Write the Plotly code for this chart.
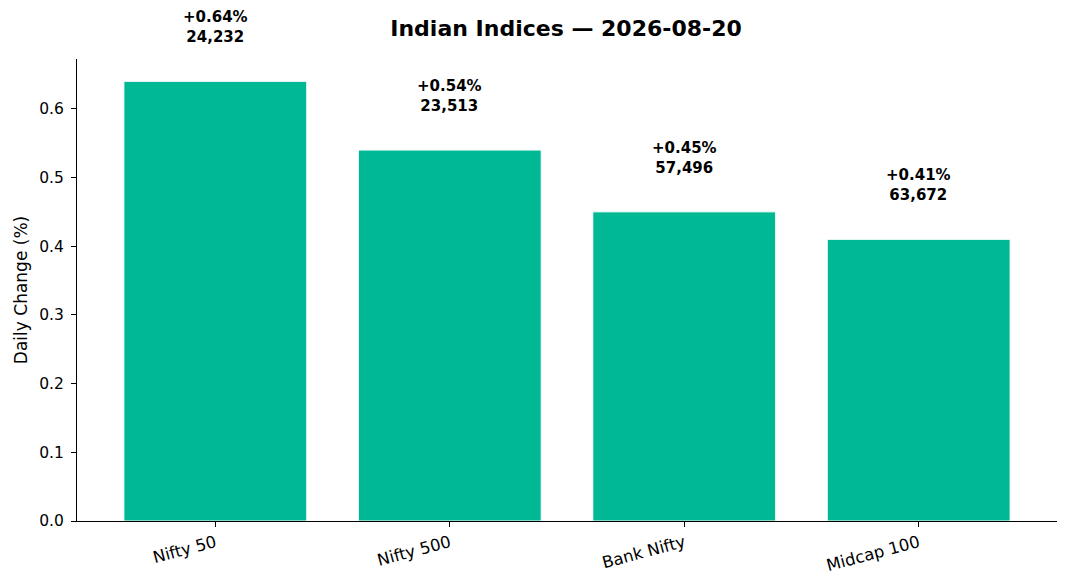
import plotly.graph_objects as go

# index data
indices = ["Nifty 50", "Nifty 500", "Bank Nifty", "Midcap 100"]
changes = [0.64, 0.54, 0.45, 0.41]
closes = [24232, 23513, 57496, 63672]

bar_color = "#00b894"
font = "DejaVu Sans"

trace = go.Bar(
    x=list(range(len(indices))), y=changes, width=0.78,
    marker=dict(color=bar_color, line=dict(color="white", width=1)),
)

fig = go.Figure(data=[trace])

for i, (c, v) in enumerate(zip(changes, closes)):
    fig.add_annotation(
        x=i, y=c, yshift=33, yanchor="bottom", showarrow=False,
        text="<b>+%.2f%%<br>%s</b>" % (c, format(v, ",")),
        font=dict(family=font, size=15, color="black"),
    )

fig.update_layout(
    width=1068, height=587,
    margin=dict(l=69, r=19, t=51, b=74),
    plot_bgcolor="white", paper_bgcolor="white",
    showlegend=False,
    font=dict(family=font, size=15, color="black"),
    title=dict(text="<b>Indian Indices — 2026-08-20</b>", x=0.5225, xanchor="center",
               yref="container", y=0.966, yanchor="middle", font=dict(size=22, family=font)),
    xaxis=dict(
        range=[-0.59, 3.59], tickmode="array", tickvals=list(range(len(indices))),
        ticktext=indices, tickangle=-15, showline=True, linecolor="black",
        ticks="outside", ticklen=5, tickcolor="black", showgrid=False,
        zeroline=False, tickfont=dict(size=16.5), automargin=False,
    ),
    yaxis=dict(
        range=[0, 0.6725], tickvals=[0, 0.1, 0.2, 0.3, 0.4, 0.5, 0.6],
        tickformat=".1f", showline=True, linecolor="black", ticks="outside",
        ticklen=5, tickcolor="black", showgrid=False, zeroline=False,
        ticklabelstandoff=4,
        title=dict(text="Daily Change (%)", font=dict(size=17), standoff=7),
        tickfont=dict(size=15.5), automargin=False,
    ),
)

fig.write_html("out.html")
